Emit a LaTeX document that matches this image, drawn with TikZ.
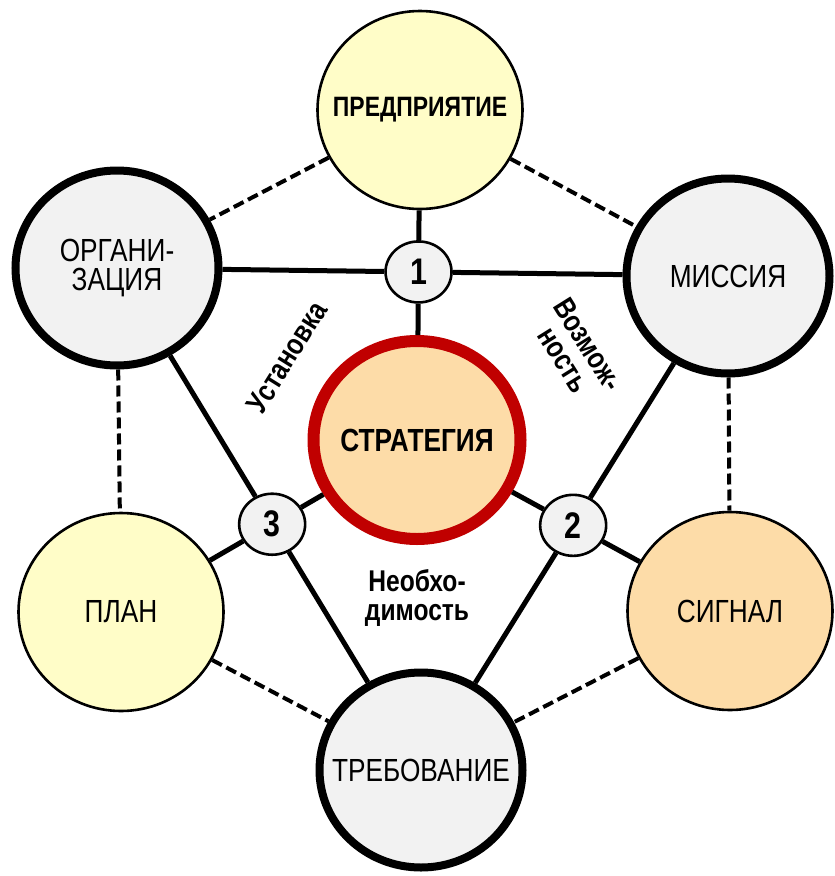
\documentclass[tikz,border=0pt]{standalone}
\usepackage{fontspec}
\setmainfont[FakeStretch=0.82]{Liberation Sans}
\usetikzlibrary{shapes.geometric}

\definecolor{paleyellow}{RGB}{255,253,200}
\definecolor{palegray}{RGB}{242,242,242}
\definecolor{paleorange}{RGB}{253,220,168}
\definecolor{darkred}{RGB}{192,0,0}

\tikzset{
  bubble/.style={ellipse, draw=black, inner sep=0pt,
    minimum width=205pt, minimum height=198pt},
  thinrim/.style={bubble, line width=2.6pt},
  thickrim/.style={bubble, line width=8pt, minimum width=203pt, minimum height=195pt, fill=palegray},
  core/.style={bubble, draw=darkred, line width=12pt, fill=paleorange,
    minimum width=207pt, minimum height=198pt},
  hub/.style={ellipse, draw=black, line width=2.6pt, fill=palegray, inner sep=0pt,
    minimum width=66pt, minimum height=61pt, font=\fontsize{37}{37}\selectfont\bfseries},
  plainname/.style={align=center, inner sep=0pt, font=\fontsize{32}{29}\selectfont},
  boldname/.style={align=center, inner sep=0pt, font=\fontsize{32}{29}\selectfont\bfseries},
  smallbold/.style={align=center, inner sep=0pt, font=\fontsize{28}{28}\selectfont\bfseries},
  sidelabel/.style={align=center, inner sep=0pt, font=\fontsize{30}{29}\selectfont\bfseries},
  link/.style={line width=5pt},
  weaklink/.style={line width=4pt, dash pattern=on 11pt off 5pt},
}

\begin{document}
\begin{tikzpicture}[x=1pt,y=-1pt]
  \useasboundingbox (0,0) rectangle (835,876);

  % outer ring of concepts
  \node[thinrim, fill=paleyellow, label={[smallbold]center:ПРЕДПРИЯТИЕ}] (pre) at (420,110) {};
  \node[thickrim, label={[plainname]center:ОРГАНИ-\\ЗАЦИЯ}] (org) at (117,268) {};
  \node[thickrim, label={[plainname]center:МИССИЯ}] (mis) at (728,276) {};
  \node[thinrim, fill=paleyellow, label={[plainname]center:ПЛАН}] (plan) at (121,612) {};
  \node[thinrim, fill=paleorange, label={[plainname]center:СИГНАЛ}] (sig) at (730,611) {};
  \node[thickrim, label={[plainname]center:ТРЕБОВАНИЕ}] (treb) at (421,770) {};

  % centre
  \node[core, label={[boldname]center:СТРАТЕГИЯ}] (strat) at (417,440) {};

  % junctions where the solid links cross
  \node[hub] (j1) at (intersection of org--mis and pre--strat) {1};
  \node[hub] (j2) at (intersection of mis--treb and strat--sig) {2};
  \node[hub] (j3) at (intersection of org--treb and plan--strat) {3};

  % solid links through the junctions
  \draw[link] (org) -- (j1) -- (mis);
  \draw[link] (pre) -- (j1) -- (strat);
  \draw[link] (mis) -- (j2) -- (treb);
  \draw[link] (strat) -- (j2) -- (sig);
  \draw[link] (org) -- (j3) -- (treb);
  \draw[link] (plan) -- (j3) -- (strat);

  % dashed links around the ring
  \draw[weaklink] (pre) -- (org);
  \draw[weaklink] (pre) -- (mis);
  \draw[weaklink] (org) -- (plan);
  \draw[weaklink] (mis) -- (sig);
  \draw[weaklink] (plan) -- (treb);
  \draw[weaklink] (sig) -- (treb);

  % labels of the three sectors
  \node[sidelabel, rotate=58] (lbl-ust) at (287,357) {Установка};
  \node[sidelabel, rotate=-58] (lbl-voz) at (576,352) {Возмож-\\ность};
  \node[sidelabel] (lbl-neo) at (417,598) {Необхо-\\димость};
\end{tikzpicture}
\end{document}
